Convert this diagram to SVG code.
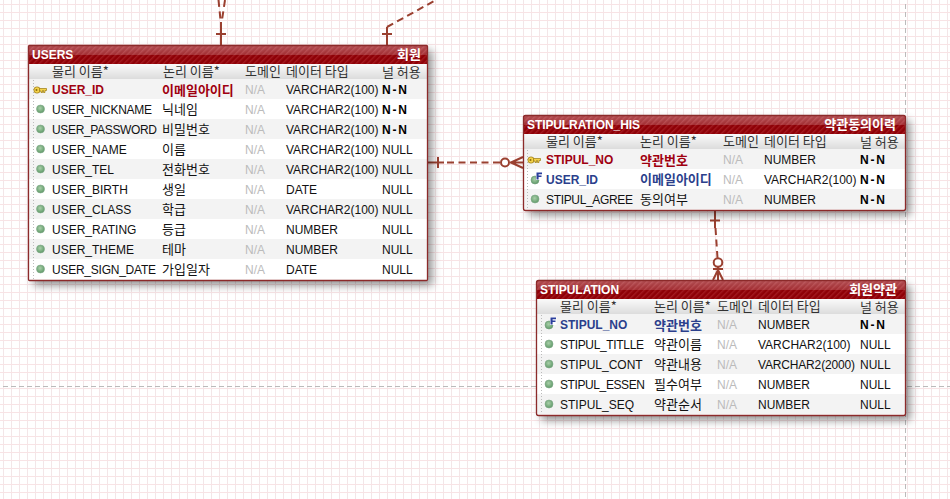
<svg xmlns="http://www.w3.org/2000/svg" width="950" height="499" viewBox="0 0 950 499">
<style>
text{font-family:"Liberation Sans","Noto Sans CJK KR",sans-serif;font-size:12px;fill:#111}
.k{font-family:"Noto Sans CJK KR","Liberation Sans",sans-serif;font-size:13px}
.h{font-family:"Noto Sans CJK KR","Liberation Sans",sans-serif;font-size:13px;fill:#333}
.t{font-weight:bold;fill:#fff}
.na{fill:#bbb}
.nn{font-weight:bold;fill:#000}
.pk{font-weight:bold;fill:#a00010}
.fk{font-weight:bold;fill:#2b3f8c}
.body{fill:#fff}
.alt{fill:#f3f3f3}
.frame{fill:none;stroke:#8c2a2a;stroke-width:1.3}
.dots{stroke:#bbb;stroke-width:1;stroke-dasharray:1 2}
.con{fill:none;stroke:#9a4030;stroke-width:2}
.dash{stroke-dasharray:7 4.5}
.ring{fill:#fff;stroke:#9a4030;stroke-width:2}
</style>
<defs>
<pattern id="grid" width="8" height="8" patternUnits="userSpaceOnUse" x="0" y="4">
<rect x="3" width="1" height="8" fill="#f3e6e8"/>
<rect y="0" width="8" height="1" fill="#f8e3e5"/>
</pattern>
<pattern id="stripe" width="4" height="4" patternUnits="userSpaceOnUse" patternTransform="rotate(-45)">
<rect width="4" height="4" fill="#8e0006"/>
<rect width="4" height="1.4" fill="#a31a20"/>
</pattern>
<linearGradient id="gloss" x1="0" y1="0" x2="0" y2="1">
<stop offset="0" stop-color="#fff" stop-opacity=".3"/>
<stop offset=".5" stop-color="#fff" stop-opacity=".18"/>
<stop offset=".5" stop-color="#fff" stop-opacity="0"/>
</linearGradient>
<linearGradient id="hd" x1="0" y1="0" x2="0" y2="1">
<stop offset="0" stop-color="#fafafa"/>
<stop offset="1" stop-color="#dcdcdc"/>
</linearGradient>
<radialGradient id="ball" cx=".45" cy=".4" r=".6">
<stop offset="0" stop-color="#a9cfa9"/>
<stop offset="1" stop-color="#5f9a68"/>
</radialGradient>
<filter id="sh" x="-6%" y="-10%" width="114%" height="130%">
<feDropShadow dx="5" dy="5" stdDeviation="4" flood-color="#000" flood-opacity=".42"/>
</filter>
<g id="dot"><circle r="4" fill="url(#ball)" stroke="#7fa888" stroke-width=".6"/></g>
<g id="key">
<rect x="-6" y="-3" width="6" height="6" rx="2.500" fill="#f4d24a" stroke="#9a7a10" stroke-width=".8"/>
<circle cx="-3.500" cy="0" r="1" fill="#8a6c10"/>
<path d="M-.5-1.500H6.500V.5L5 .5V2.500H3.500V.5H2.500V2.500H1V1H-.5Z" fill="#f4d24a" stroke="#9a7a10" stroke-width=".7"/>
</g>
<g id="fkey">
<circle r="4" fill="url(#ball)" stroke="#6f9a78" stroke-width=".6"/>
<rect x="1" y="-8" width="6.500" height="8" fill="#fff"/>
<path d="M1.500-7.500H7V-5.800H3.600V-4.500H6.500V-3H3.600V-.5H1.500Z" fill="#2b3f9c"/>
</g>
</defs>

<rect width="950" height="499" fill="#fff"/>
<rect width="950" height="499" fill="url(#grid)"/>
<path d="M905.500 4V499" stroke="#bbb" stroke-width="1" stroke-dasharray="5 3" fill="none"/>
<path d="M3 386.500H950" stroke="#bbb" stroke-width="1" stroke-dasharray="5 3" fill="none"/>

<g id="connectors">
<path class="con dash" d="M218.500 0L220.500 20M225 0L222 20"/>
<path class="con" d="M221 22V45M216 34H226"/>
<path class="con" d="M387 45V27M382 34H392"/>
<path class="con dash" d="M387 27L436 0"/>
<path class="con" d="M428 162.500H444M438 157V168"/>
<path class="con dash" d="M447 162.500H501"/>
<circle class="ring" cx="505" cy="162.500" r="4"/>
<path class="con" d="M510 162.500H523M511 162.500L523 157M511 162.500L523 168"/>
<path class="con" d="M715 211V228M710 220.500H720"/>
<path class="con dash" d="M715.500 228L717.500 258"/>
<circle class="ring" cx="718" cy="262.500" r="4.300"/>
<path class="con" d="M718 267V280M713 269H723M718 270L713 280M718 270L723 280"/>
</g>

<g id="users">
<g filter="url(#sh)"><rect x="28.500" y="45.500" width="399" height="235" rx="1" class="body"/></g>
<rect x="29" y="46" width="398" height="18" fill="url(#stripe)"/>
<rect x="29" y="46" width="398" height="18" fill="url(#gloss)"/>
<rect x="29" y="64" width="398" height="15" fill="url(#hd)"/>
<rect x="29" y="79" width="398" height="20" class="alt"/>
<rect x="29" y="119" width="398" height="20" class="alt"/>
<rect x="29" y="159" width="398" height="20" class="alt"/>
<rect x="29" y="199" width="398" height="20" class="alt"/>
<rect x="29" y="239" width="398" height="20" class="alt"/>
<path class="dots" d="M33.500 80V279"/>
<rect x="28.500" y="45.500" width="399" height="235" rx="1" class="frame"/>
<text class="t" x="32" y="59">USERS</text>
<text class="t k" x="421" y="58.500" text-anchor="end">회원</text>
<text class="h" x="52" y="76">물리 이름*</text><text class="h" x="163" y="76">논리 이름*</text><text class="h" x="245" y="76">도메인</text><text class="h" x="286" y="76">데이터 타입</text><text class="h" x="382" y="76.500">널 허용</text>
<use href="#key" x="40" y="90"/>
<use href="#dot" x="40.500" y="109"/><use href="#dot" x="40.500" y="129"/><use href="#dot" x="40.500" y="149"/><use href="#dot" x="40.500" y="169"/><use href="#dot" x="40.500" y="189"/><use href="#dot" x="40.500" y="209"/><use href="#dot" x="40.500" y="229"/><use href="#dot" x="40.500" y="249"/><use href="#dot" x="40.500" y="269"/>
<text class="pk" x="52" y="94">USER_ID</text><text class="pk k" x="162" y="94.500">이메일아이디</text><text class="na" x="245" y="94">N/A</text><text x="286" y="94">VARCHAR2(100)</text><text class="nn" x="382" y="94" textLength="25">N-N</text>
<text x="52" y="114" textLength="100">USER_NICKNAME</text><text class="k" x="162" y="114">닉네임</text><text class="na" x="245" y="114">N/A</text><text x="286" y="114">VARCHAR2(100)</text><text class="nn" x="382" y="114" textLength="25">N-N</text>
<text x="52" y="134" textLength="105">USER_PASSWORD</text><text class="k" x="162" y="134">비밀번호</text><text class="na" x="245" y="134">N/A</text><text x="286" y="134">VARCHAR2(100)</text><text class="nn" x="382" y="134" textLength="25">N-N</text>
<text x="52" y="154">USER_NAME</text><text class="k" x="162" y="154">이름</text><text class="na" x="245" y="154">N/A</text><text x="286" y="154">VARCHAR2(100)</text><text x="382" y="154">NULL</text>
<text x="52" y="174">USER_TEL</text><text class="k" x="162" y="174">전화번호</text><text class="na" x="245" y="174">N/A</text><text x="286" y="174">VARCHAR2(100)</text><text x="382" y="174">NULL</text>
<text x="52" y="194">USER_BIRTH</text><text class="k" x="162" y="194">생일</text><text class="na" x="245" y="194">N/A</text><text x="286" y="194">DATE</text><text x="382" y="194">NULL</text>
<text x="52" y="214">USER_CLASS</text><text class="k" x="162" y="214">학급</text><text class="na" x="245" y="214">N/A</text><text x="286" y="214">VARCHAR2(100)</text><text x="382" y="214">NULL</text>
<text x="52" y="234">USER_RATING</text><text class="k" x="162" y="234">등급</text><text class="na" x="245" y="234">N/A</text><text x="286" y="234">NUMBER</text><text x="382" y="234">NULL</text>
<text x="52" y="254">USER_THEME</text><text class="k" x="162" y="254">테마</text><text class="na" x="245" y="254">N/A</text><text x="286" y="254">NUMBER</text><text x="382" y="254">NULL</text>
<text x="52" y="274" textLength="104">USER_SIGN_DATE</text><text class="k" x="162" y="274">가입일자</text><text class="na" x="245" y="274">N/A</text><text x="286" y="274">DATE</text><text x="382" y="274">NULL</text>
</g>

<g id="stipulration_his">
<g filter="url(#sh)"><rect x="523.500" y="115.500" width="382" height="95" rx="2" class="body"/></g>
<rect x="524" y="116" width="381" height="18" fill="url(#stripe)"/>
<rect x="524" y="116" width="381" height="18" fill="url(#gloss)"/>
<rect x="524" y="134" width="381" height="15" fill="url(#hd)"/>
<rect x="524" y="149" width="381" height="20" class="alt"/>
<rect x="524" y="189" width="381" height="20" class="alt"/>
<path class="dots" d="M527.500 150V209"/>
<rect x="523.500" y="115.500" width="382" height="95" rx="2" class="frame"/>
<text class="t" x="527" y="129" textLength="113">STIPULRATION_HIS</text>
<text class="t k" x="896" y="128.500" text-anchor="end">약관동의이력</text>
<text class="h" x="546" y="146">물리 이름*</text><text class="h" x="640" y="146">논리 이름*</text><text class="h" x="723" y="146">도메인</text><text class="h" x="764" y="146">데이터 타입</text><text class="h" x="860" y="146.500">널 허용</text>
<use href="#key" x="534" y="160"/><use href="#fkey" x="535" y="180"/><use href="#dot" x="535" y="199"/>
<text class="pk" x="546" y="164">STIPUL_NO</text><text class="pk k" x="640" y="164.500">약관번호</text><text class="na" x="723" y="164">N/A</text><text x="764" y="164">NUMBER</text><text class="nn" x="860" y="164" textLength="25">N-N</text>
<text class="fk" x="546" y="184">USER_ID</text><text class="fk k" x="640" y="184">이메일아이디</text><text class="na" x="723" y="184">N/A</text><text x="764" y="184">VARCHAR2(100)</text><text class="nn" x="860" y="184" textLength="25">N-N</text>
<text x="546" y="204" textLength="87">STIPUL_AGREE</text><text class="k" x="640" y="204">동의여부</text><text class="na" x="723" y="204">N/A</text><text x="764" y="204">NUMBER</text><text class="nn" x="860" y="204" textLength="25">N-N</text>
</g>

<g id="stipulation">
<g filter="url(#sh)"><rect x="536.500" y="280.500" width="369" height="135" rx="2" class="body"/></g>
<rect x="537" y="281" width="368" height="18" fill="url(#stripe)"/>
<rect x="537" y="281" width="368" height="18" fill="url(#gloss)"/>
<rect x="537" y="299" width="368" height="15" fill="url(#hd)"/>
<rect x="537" y="314" width="368" height="20" class="alt"/>
<rect x="537" y="354" width="368" height="20" class="alt"/>
<rect x="537" y="394" width="368" height="20" class="alt"/>
<path class="dots" d="M541.500 315V414"/>
<rect x="536.500" y="280.500" width="369" height="135" rx="2" class="frame"/>
<text class="t" x="540" y="294">STIPULATION</text>
<text class="t k" x="897" y="293.500" text-anchor="end">회원약관</text>
<text class="h" x="560" y="311">물리 이름*</text><text class="h" x="654" y="311">논리 이름*</text><text class="h" x="717" y="311">도메인</text><text class="h" x="758" y="311">데이터 타입</text><text class="h" x="860" y="311.500">널 허용</text>
<use href="#fkey" x="549" y="325"/><use href="#dot" x="549" y="344"/><use href="#dot" x="549" y="364"/><use href="#dot" x="549" y="384"/><use href="#dot" x="549" y="404"/>
<text class="fk" x="560" y="329">STIPUL_NO</text><text class="fk k" x="654" y="329.500">약관번호</text><text class="na" x="717" y="329">N/A</text><text x="758" y="329">NUMBER</text><text class="nn" x="860" y="329" textLength="25">N-N</text>
<text x="560" y="349" textLength="84">STIPUL_TITLLE</text><text class="k" x="654" y="349">약관이름</text><text class="na" x="717" y="349">N/A</text><text x="758" y="349">VARCHAR2(100)</text><text x="860" y="349">NULL</text>
<text x="560" y="369">STIPUL_CONT</text><text class="k" x="654" y="369">약관내용</text><text class="na" x="717" y="369">N/A</text><text x="758" y="369" textLength="97">VARCHAR2(2000)</text><text x="860" y="369">NULL</text>
<text x="560" y="389" textLength="85">STIPUL_ESSEN</text><text class="k" x="654" y="389">필수여부</text><text class="na" x="717" y="389">N/A</text><text x="758" y="389">NUMBER</text><text x="860" y="389">NULL</text>
<text x="560" y="409">STIPUL_SEQ</text><text class="k" x="654" y="409">약관순서</text><text class="na" x="717" y="409">N/A</text><text x="758" y="409">NUMBER</text><text x="860" y="409">NULL</text>
</g>
</svg>
